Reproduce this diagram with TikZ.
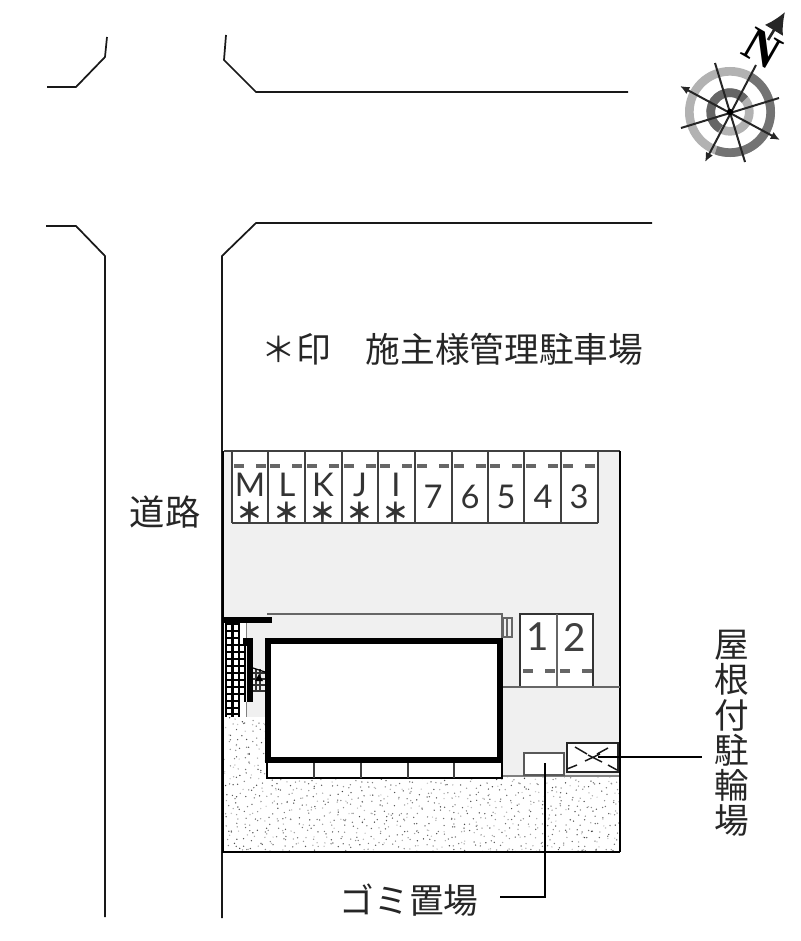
\documentclass[tikz,border=0pt]{standalone}
\usepackage{fontspec}
\setmainfont{Liberation Sans}
\newfontfamily\jp{Noto Sans CJK JP}[Scale=1]
\newfontfamily\thin{Lato}
\newfontfamily\nfont{Liberation Serif}[Scale=1]
\usetikzlibrary{arrows.meta}
\definecolor{court}{HTML}{F0F0F0}
\tikzset{
 road/.style={draw=black!90,line width=1.3pt,line join=miter},
 wall/.style={draw=black,line width=4.2pt},
 siteline/.style={draw=black!75,line width=1.1pt},
 slotline/.style={draw=black!75,line width=1.3pt},
 stall/.style={draw=none,fill=white},
 baymark/.style={draw=black!60,line width=2.6pt},
 leader/.style={draw=black,line width=1pt},
 jptext/.style={font=\jp\fontsize{26pt}{26pt}\selectfont,inner sep=0pt,text=black!85},
 slotno/.style={font=\thin\fontsize{24.5pt}{25pt}\selectfont,inner sep=0pt,text=black!80},
 bigno/.style={font=\thin\fontsize{29pt}{30pt}\selectfont,inner sep=0pt,text=black!75},
 star/.style={font=\jp\bfseries\fontsize{20pt}{20pt}\selectfont,inner sep=0pt,text=black!80},
 box/.style={draw=black!70,line width=1pt,fill=white,inner sep=0pt,minimum width=0pt},
 axisline/.style={draw=black!85,line width=1.5pt},
}
\begin{document}
\begin{tikzpicture}[x=0.75pt,y=-0.75pt]
\useasboundingbox (0,0) rectangle (800,941);
\fill[white] (0,0) rectangle (800,941);

% roads
\draw[road] (47,87) -- (76,87) -- (105,57) -- (107,37);
\draw[road] (226,35) -- (224,60) -- (256,92) -- (628,92);
\draw[road] (46,226) -- (76,226) -- (105,256) -- (105,917);
\draw[road] (652,223) -- (256,223) -- (222,256) -- (222,918);

% site
\fill[court] (224,451) rectangle (620,717);
% stipple
\pgfmathsetseed{4711}
\begin{scope}
\clip (224,717) rectangle (620,852);
\foreach \gx in {224,230,...,620}{
 \foreach \gy in {717,723,...,852}{
  \pgfmathsetmacro{\px}{\gx+7*rnd}
  \pgfmathsetmacro{\py}{\gy+7*rnd}
  \pgfmathsetmacro{\pk}{20+55*rnd}
  \fill[black!\pk] (\px,\py) circle[radius=0.55pt];
 }
}
\end{scope}
\fill[white] (267,717) rectangle (502,778);
\fill[court] (503,687) rectangle (620,776);
\draw[draw=black!50,line width=1pt] (503,776) -- (620,776);

% parking upper
\fill[stall] (232,451) rectangle (598,523);
\foreach \x in {232,268,305,342,378,415,452,488,524,561,598}{
  \draw[slotline] (\x,451) -- (\x,523);
}
\draw[slotline] (232,523) -- (598,523);
\foreach \x in {232,268,305,342,378,415,452,488,524,561}{
  \draw[baymark] (\x+2,466) -- (\x+12,466);
  \draw[baymark] (\x+24,466) -- (\x+34,466);
}
\node[slotno] (sM) at (250,485) {M};
\node[slotno] (sL) at (287,485) {L};
\node[slotno] (sK) at (323,485) {K};
\node[slotno] (sJ) at (360,485) {J};
\node[slotno] (sI) at (396,485) {I};
\node[slotno] (s7) at (433,497) {7};
\node[slotno] (s6) at (470,497) {6};
\node[slotno] (s5) at (506,497) {5};
\node[slotno] (s4) at (543,497) {4};
\node[slotno] (s3) at (579,497) {3};
\node[star] (a1) at (250,512) {＊};
\node[star] (a2) at (287,512) {＊};
\node[star] (a3) at (323,512) {＊};
\node[star] (a4) at (360,512) {＊};
\node[star] (a5) at (396,512) {＊};

% parking 1,2
\fill[stall] (520,614) rectangle (593,687);
\draw[draw=black!80,line width=1pt] (520,687) -- (520,614) -- (593,614) -- (593,687);
\draw[draw=black!60,line width=1.5pt] (557,614) -- (557,687);
\foreach \x in {520,557}{
  \draw[baymark] (\x+3,671) -- (\x+13,671);
  \draw[baymark] (\x+25,671) -- (\x+35,671);
}
\node[bigno] (s1) at (538,637) {1};
\node[bigno] (s2) at (575,637) {2};

% corridor
\draw[draw=black!60,line width=1.2pt] (267,614) -- (502,614) -- (502,640);
\draw[draw=black!60,line width=1pt,fill=court] (503,618) rectangle (512,637);
\draw[draw=black!60,line width=1.6pt] (507,618) -- (507,637);

% stairs and grid
\fill[white] (224,620) rectangle (246,717);
\draw[draw=black!50,line width=1pt] (239,620) -- (239,717) (246.5,620) -- (246.5,638) (246.5,702) -- (246.5,717);
\foreach \x in {226,232.5,239}{ \draw[draw=black,line width=1.8pt] (\x,619) -- (\x,717); }
\draw[draw=black,line width=1.8pt] (245,638) -- (245,702);
\foreach \y in {624,631,638,701,708,714}{ \draw[draw=black,line width=1.8pt] (225,\y) -- (239,\y); }
\foreach \y in {645,652,659,666,673,680,687,694}{ \draw[draw=black,line width=1.8pt] (225,\y) -- (246,\y); }
\fill[black] (243,638) rectangle (253,646);
\fill[black] (247,639) rectangle (253,702);
\foreach \y in {673,679,685,691}{ \draw[draw=black!80,line width=0.9pt] (253,\y) -- (265,\y); }
\foreach \x in {256,260}{ \draw[draw=black!80,line width=0.9pt] (\x,669) -- (\x,692); }
\fill[black] (259,674) -- (255,681) -- (263,681) -- cycle;
\draw[draw=black,line width=0.9pt] (253,668) -- (265,672);
\draw[draw=black,line width=3.8pt] (224,620) -- (272,620);

% building
\draw[wall,fill=white] (268,641) rectangle (500,760);
% front strip
\draw[draw=black,line width=1pt] (267,763) -- (267,778) -- (502,778) -- (502,763);
\foreach \x in {314,361,408,454}{ \draw[draw=black!75,line width=1.2pt] (\x,763) -- (\x,778); }

% boundary
\draw[siteline] (224,451) -- (620,451);
\draw[draw=black,line width=1.2pt] (620,451) -- (620,852);
\draw[draw=black!60,line width=1.2pt] (503,687) -- (620,687);
\draw[draw=black,line width=1.4pt] (222,852) -- (620,852);
\draw[draw=black,line width=2pt] (223,451) -- (223,852);

% gomi and bike
\node[box,draw=black!65,line width=1.3pt,minimum width=30pt,minimum height=16.5pt] (gomi) at (544,764) {};
\node[box,draw=black!85,line width=1.3pt,minimum width=38.25pt,minimum height=21.75pt,fill=white] (bike) at (592.5,757.5) {};
\draw[draw=black!90,line width=1.1pt] (575,747) -- (587,754) (608,748) -- (597,754)
      (585,761) -- (600,754) (588,755) -- (602,762)
      (567,769) -- (577,765) (608,765) -- (617,770);

% labels
\node[jptext,anchor=center] (title) at (452.5,349) {＊印　施主様管理駐車場};
\node[jptext,font=\jp\fontsize{26.5pt}{26.5pt}\selectfont,anchor=center] (doro) at (165,512) {道路};
\node[jptext,anchor=center] (gomilabel) at (409,900) {ゴミ置場};
\node[jptext,anchor=north,align=center,font=\jp\fontsize{26pt}{26.4pt}\selectfont] (bikelabel) at (732,630) {屋\\根\\付\\駐\\輪\\場};

% leaders
\coordinate (bikeend) at (702,757);
\coordinate (gomiend) at (500,897);
\coordinate (bikestart) at (598,757);
\coordinate (gomistart) at (545,763);
\draw[leader] (bikestart) -- (bikeend);
\draw[leader] (gomistart) |- (gomiend);

% compass
\begin{scope}[shift={(730,112)},x=0.75pt,y=0.75pt]
\draw[draw=black!30,line width=6.5pt] (0,0) circle[radius=30.5pt];
\draw[draw=black!55,line width=6.5pt] (60:30.5pt) arc[start angle=60,end angle=-110,radius=30.5pt];
\draw[draw=black!30,line width=6.5pt] (0,0) circle[radius=14.5pt];
\draw[draw=black!60,line width=6.5pt] (40:14.5pt) arc[start angle=40,end angle=240,radius=14.5pt];
\draw[axisline,-{Latex[length=7pt,width=6pt]}] (26,47) -- (-25,-50);
\draw[axisline,{Latex[length=7pt,width=6pt]}-{Latex[length=7pt,width=6pt]}] (-50,26) -- (50,-28);
\draw[axisline] (-15,49) -- (15,-50);
\draw[axisline] (-49,-16) -- (49,14);
\fill[black] (0,0) circle[radius=2.4pt];
\draw[axisline,line width=2pt,-{Latex[length=16pt,width=16pt]}] (38,72) -- (55,100);
\node[font=\nfont\bfseries\fontsize{36pt}{36pt}\selectfont,rotate=-30,inner sep=0pt,text=black] (north) at (32,63) {N};
\end{scope}
\end{tikzpicture}
\end{document}
